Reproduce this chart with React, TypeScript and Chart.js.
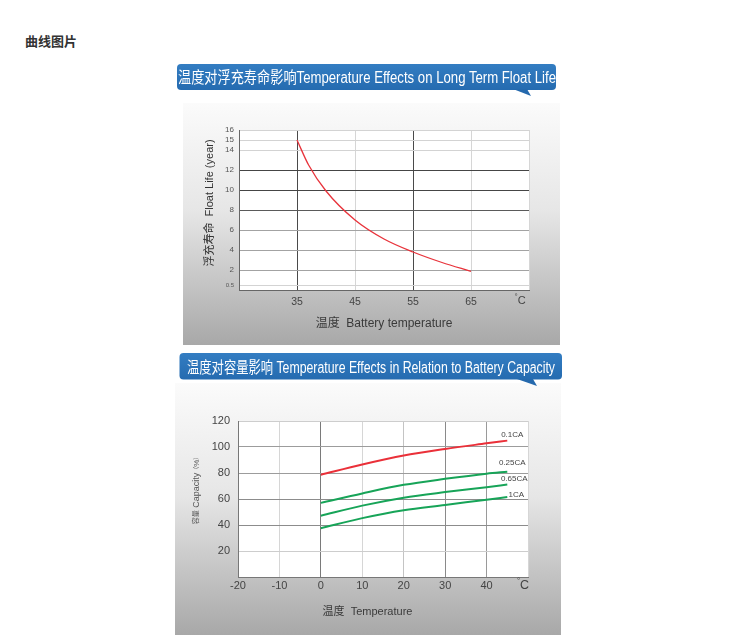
import React, { useEffect, useRef } from 'react'
import { Chart, registerables } from 'chart.js'

Chart.register(...registerables)

const FONT = "'Liberation Sans', Arial, 'Noto Sans CJK SC', sans-serif"
Chart.defaults.font.family = FONT

// float life vs battery temperature
const lifeTemps = [35, 37, 40, 45, 50, 55, 60, 65]
const lifeYears = [15, 12.5, 9.9, 7.0, 5.1, 3.8, 2.75, 1.87]
const lifeXTicks = [25, 35, 45, 55, 65, 75]
const lifeYTicks = [0.5, 2, 4, 6, 8, 10, 12, 14, 15, 16]

// capacity vs temperature, one series per discharge rate
const capTemps = [0, 10, 20, 30, 40, 45]
const capRates = ['0.1CA', '0.25CA', '0.65CA', '1CA']
const cap01 = [78.7, 86.6, 93.5, 98.5, 102.8, 104.9]
const cap025 = [57, 64.3, 70.9, 75.5, 79.5, 81]
const cap065 = [47.1, 54.9, 61, 65.3, 69.1, 71.1]
const cap1 = [37.5, 45.3, 51.4, 55.4, 59.5, 61.5]
const capSeries = [cap01, cap025, cap065, cap1]
const capColors = ['#ea3039', '#17a458', '#17a458', '#17a458']

type Part = { text: string; size: number; bold?: boolean; dy?: number }
type Note = { x: number; y: number; parts: Part[]; rotate?: boolean; color?: string }

// free text drawn on the canvas (axis titles, unit mark)
const notesPlugin = (notes: Note[]) => ({
    id: 'notes',
    afterDraw(chart: any) {
        const ctx = chart.ctx
        notes.forEach(n => {
            ctx.save()
            ctx.translate(n.x, n.y)
            if (n.rotate) ctx.rotate(-Math.PI / 2)
            ctx.fillStyle = n.color || '#444'
            ctx.textBaseline = 'middle'
            ctx.textAlign = 'left'
            const fonts = n.parts.map(p => `${p.bold ? 'bold ' : ''}${p.size}px ${FONT}`)
            let total = 0
            const widths = n.parts.map((p, i) => {
                ctx.font = fonts[i]
                const w = ctx.measureText(p.text).width
                total += w
                return w
            })
            let cx = -total / 2
            n.parts.forEach((p, i) => {
                ctx.font = fonts[i]
                ctx.fillText(p.text, cx, p.dy || 0)
                cx += widths[i]
            })
            ctx.restore()
        })
    }
})

const plotBg = {
    id: 'plotBg',
    beforeDraw(chart: any) {
        const { ctx, chartArea } = chart
        ctx.save()
        ctx.fillStyle = '#fff'
        ctx.fillRect(chartArea.left, chartArea.top, chartArea.width, chartArea.height)
        ctx.restore()
    }
}

// rate names at the end of each capacity curve
const labelShift = [[5, -6], [5, -9], [7, -6], [9, -2]]
const endLabels = {
    id: 'endLabels',
    afterDatasetsDraw(chart: any) {
        const ctx = chart.ctx
        ctx.save()
        ctx.font = `8px ${FONT}`
        ctx.fillStyle = '#444'
        ctx.textAlign = 'center'
        ctx.textBaseline = 'middle'
        chart.data.datasets.forEach((ds: any, i: number) => {
            const pts = chart.getDatasetMeta(i).data
            const p = pts[pts.length - 1]
            ctx.fillText(ds.label, p.x + labelShift[i][0], p.y + labelShift[i][1])
        })
        ctx.restore()
    }
}

const lifeGrid = (v: number) => {
    if (v === 10 || v === 12) return '#454545'
    if (v === 8) return '#5a5a5a'
    if (v === 2 || v === 4 || v === 6) return '#a3a3a3'
    return '#d3d3d3'
}

const lifeConfig = (): any => ({
    type: 'line',
    data: {
        datasets: [{
            data: lifeTemps.map((t, i) => ({ x: t, y: lifeYears[i] })),
            borderColor: '#e8333b',
            borderWidth: 1.3,
            pointRadius: 0,
            cubicInterpolationMode: 'monotone',
            fill: false
        }]
    },
    options: {
        animation: false,
        responsive: true,
        maintainAspectRatio: false,
        layout: { padding: { top: 27, right: 31, left: 0, bottom: 0 } },
        plugins: { legend: { display: false }, tooltip: { enabled: false } },
        scales: {
            x: {
                type: 'linear',
                min: 25,
                max: 75,
                afterBuildTicks: (s: any) => { s.ticks = lifeXTicks.map(v => ({ value: v })) },
                afterFit: (s: any) => { s.height = 55 },
                grid: {
                    color: (c: any) => (c.tick && (c.tick.value === 35 || c.tick.value === 55) ? '#4a4a4a' : '#d6d6d6'),
                    drawTicks: false
                },
                border: { color: '#666' },
                ticks: {
                    padding: 6,
                    color: '#444',
                    font: { size: 10.5 },
                    callback: (v: number) => (v === 25 || v === 75 ? '' : String(v))
                }
            },
            y: {
                min: 0,
                max: 16,
                afterBuildTicks: (s: any) => { s.ticks = lifeYTicks.map(v => ({ value: v })) },
                afterFit: (s: any) => { s.width = 56 },
                grid: { color: (c: any) => lifeGrid(c.tick ? c.tick.value : 0), drawTicks: false },
                border: { color: '#666' },
                ticks: {
                    padding: 5,
                    color: '#555',
                    font: (c: any) => ({ size: c.tick && c.tick.value === 0.5 ? 6 : 8 }),
                    callback: (v: number) => String(v)
                }
            }
        }
    },
    plugins: [plotBg, notesPlugin([
        { x: 27, y: 100, rotate: true, color: '#333', parts: [{ text: '浮充寿命', size: 11 }, { text: '  Float Life (year)', size: 11 }] },
        { x: 201, y: 221, color: '#3a3a3a', parts: [{ text: '温度', size: 12 }, { text: '  Battery temperature', size: 12 }] },
        { x: 337, y: 198, color: '#444', parts: [{ text: '°', size: 8, dy: -4 }, { text: 'C', size: 11 }] }
    ])]
})

const capGridX = (v: number) => {
    if (v === 0) return '#7a7a7a'
    if (v === 30) return '#8a8a8a'
    if (v === 40) return '#9a9a9a'
    if (v === 20) return '#c4c4c4'
    return '#d6d6d6'
}
const capGridY = (v: number) => {
    if (v === 40 || v === 60) return '#8c8c8c'
    if (v === 80 || v === 100) return '#9c9c9c'
    return '#cdcdcd'
}

const capConfig = (): any => ({
    type: 'line',
    data: {
        datasets: capSeries.map((vals, i) => ({
            label: capRates[i],
            data: capTemps.map((t, j) => ({ x: t, y: vals[j] })),
            borderColor: capColors[i],
            borderWidth: 2,
            pointRadius: 0,
            cubicInterpolationMode: 'monotone',
            fill: false
        }))
    },
    options: {
        animation: false,
        responsive: true,
        maintainAspectRatio: false,
        layout: { padding: { top: 38, right: 33, left: 0, bottom: 0 } },
        plugins: { legend: { display: false }, tooltip: { enabled: false } },
        scales: {
            x: {
                type: 'linear',
                min: -20,
                max: 50,
                afterFit: (s: any) => { s.height = 58 },
                grid: { color: (c: any) => capGridX(c.tick ? c.tick.value : 0), drawTicks: false },
                border: { color: '#777' },
                ticks: {
                    stepSize: 10,
                    padding: 2,
                    color: '#444',
                    font: { size: 11 },
                    callback: (v: number) => (v === 50 ? '' : String(v))
                }
            },
            y: {
                min: 0,
                max: 120,
                afterFit: (s: any) => { s.width = 63 },
                grid: { color: (c: any) => capGridY(c.tick ? c.tick.value : 0), drawTicks: false },
                border: { color: '#777' },
                ticks: {
                    stepSize: 20,
                    padding: 8,
                    color: '#444',
                    font: { size: 11 },
                    callback: (v: number) => (v === 0 ? '' : String(v))
                }
            }
        }
    },
    plugins: [plotBg, endLabels, notesPlugin([
        {
            x: 21.5, y: 106, rotate: true, color: '#555', parts: [
                { text: '容量', size: 7 }, { text: ' Capacity', size: 9 },
                { text: '（', size: 6 }, { text: '%', size: 8 }, { text: '）', size: 6 }
            ]
        },
        { x: 192.5, y: 229, color: '#3a3a3a', parts: [{ text: '温度', size: 11 }, { text: '  Temperature', size: 11 }] },
        { x: 348, y: 202.5, color: '#444', parts: [{ text: '°', size: 8, dy: -5 }, { text: 'C', size: 12.5 }] }
    ])]
})

interface BoxProps {
    left: number
    top: number
    width: number
    height: number
    makeConfig: () => any
}

const ChartBox: React.FC<BoxProps> = ({ left, top, width, height, makeConfig }) => {
    const canvasRef = useRef<HTMLCanvasElement>(null)

    useEffect(() => {
        if (!canvasRef.current) return
        const chart = new Chart(canvasRef.current, makeConfig())
        return () => chart.destroy()
    }, [makeConfig])

    return (
        <div style={{
            position: 'absolute', left, top, width, height,
            background: 'linear-gradient(#fbfbfb 0%, #e6e6e6 45%, #a8a8a8 100%)'
        }}>
            <canvas ref={canvasRef}></canvas>
        </div>
    )
}

const Banner: React.FC<{ x: number; y: number; w: number; h: number; tail: string; text: string; tx: number; ty: number; tw: number }> =
    ({ x, y, w, h, tail, text, tx, ty, tw }) => (
        <g>
            <rect x={x} y={y} width={w} height={h} rx={4} fill="url(#bannerFill)" />
            <polygon points={tail} fill="#2569ad" />
            <text x={tx} y={ty} textLength={tw} lengthAdjust="spacingAndGlyphs" fill="#fff"
                style={{ fontFamily: FONT, fontSize: 16 }}>{text}</text>
        </g>
    )

export default function App() {
    return (
        <div style={{ position: 'absolute', left: 0, top: 0, width: 741, height: 644, background: '#fff', overflow: 'hidden' }}>
            <div style={{
                position: 'absolute', left: 25, top: 34, fontSize: 13, lineHeight: '13px',
                fontWeight: 'bold', color: '#333', fontFamily: "'Noto Sans CJK SC', sans-serif"
            }}>曲线图片</div>
            <ChartBox left={183} top={103} width={377} height={242} makeConfig={lifeConfig} />
            <ChartBox left={175} top={383} width={386} height={252} makeConfig={capConfig} />
            <svg width={741} height={644} style={{ position: 'absolute', left: 0, top: 0, pointerEvents: 'none' }}>
                <defs>
                    <linearGradient id="bannerFill" x1="0" y1="0" x2="0" y2="1">
                        <stop offset="0" stopColor="#337dc2" />
                        <stop offset="1" stopColor="#256bb0" />
                    </linearGradient>
                </defs>
                <Banner x={177} y={64} w={379} h={26} tail="513,89 531,96 527,89"
                    text="温度对浮充寿命影响Temperature Effects on Long Term Float Life" tx={178} ty={83} tw={378} />
                <Banner x={179.5} y={353} w={382.5} h={26.5} tail="517,379 537,386 533,379"
                    text="温度对容量影响 Temperature Effects in Relation to Battery Capacity" tx={187} ty={372.5} tw={368} />
            </svg>
        </div>
    )
}
